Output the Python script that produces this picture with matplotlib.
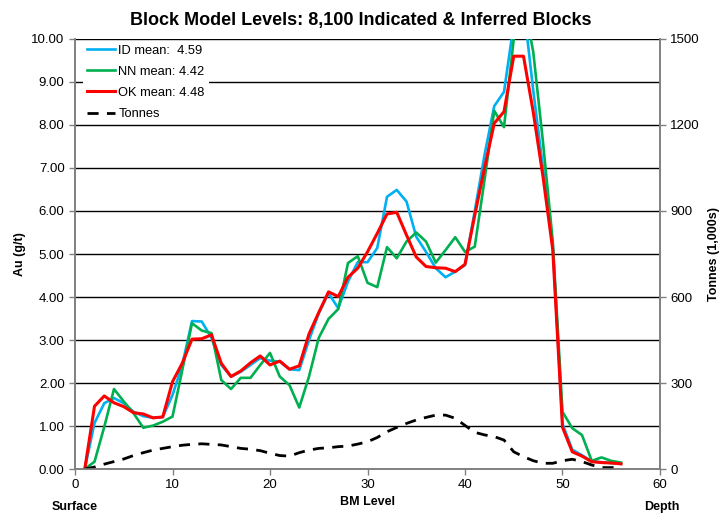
import numpy as np
import matplotlib
matplotlib.use('Agg')
import matplotlib.pyplot as plt
from matplotlib.ticker import MultipleLocator, FormatStrFormatter

plt.rcParams['font.family'] = ['Liberation Sans', 'DejaVu Sans']

levels = list(range(1, 57))

# Au grade (g/t) by block model level
id_mean = [0.00, 1.07, 1.53, 1.65, 1.53, 1.33, 1.23, 1.19, 1.21, 1.72,
           2.42, 3.44, 3.43, 3.05, 2.42, 2.15, 2.26, 2.42, 2.58, 2.52,
           2.50, 2.32, 2.30, 3.00, 3.62, 4.09, 3.74, 4.36, 4.81, 4.81,
           5.14, 6.33, 6.49, 6.22, 5.40, 5.05, 4.67, 4.46, 4.59, 4.74,
           6.00, 7.30, 8.44, 8.77, 10.35, 10.80, 8.80, 7.00, 5.20, 1.05,
           0.45, 0.32, 0.18, 0.16, 0.14, 0.12]
nn_mean = [0.00, 0.17, 0.98, 1.86, 1.57, 1.30, 0.96, 1.01, 1.10, 1.22,
           2.30, 3.39, 3.22, 3.16, 2.07, 1.86, 2.12, 2.12, 2.42, 2.70,
           2.15, 1.95, 1.43, 2.15, 3.05, 3.49, 3.72, 4.79, 4.95, 4.33,
           4.23, 5.16, 4.90, 5.29, 5.50, 5.29, 4.80, 5.09, 5.39, 5.05,
           5.17, 6.72, 8.33, 7.95, 10.00, 10.90, 9.70, 7.60, 5.30, 1.33,
           0.95, 0.79, 0.19, 0.27, 0.19, 0.15]
ok_mean = [0.00, 1.46, 1.70, 1.54, 1.45, 1.31, 1.28, 1.19, 1.21, 2.03,
           2.46, 3.02, 3.03, 3.12, 2.46, 2.15, 2.28, 2.47, 2.63, 2.42,
           2.51, 2.32, 2.40, 3.14, 3.64, 4.12, 4.01, 4.46, 4.67, 5.05,
           5.48, 5.93, 5.97, 5.44, 4.93, 4.71, 4.68, 4.67, 4.59, 4.76,
           5.90, 7.00, 8.04, 8.31, 9.60, 9.60, 8.30, 6.80, 5.10, 0.97,
           0.40, 0.30, 0.17, 0.15, 0.14, 0.12]
# Tonnes (1,000s) by level
tonnes = [0, 7, 17, 26, 35, 47, 57, 66, 72, 78,
          83, 86, 88, 86, 84, 78, 72, 69, 64, 55,
          47, 45, 57, 66, 72, 74, 78, 80, 87, 95,
          110, 130, 145, 159, 171, 180, 188, 188, 177, 152,
          128, 119, 113, 101, 60, 43, 29, 20, 20, 29,
          34, 26, 14, 5, 5, 5]

labels = ['ID mean:  4.59', 'NN mean: 4.42', 'OK mean: 4.48', 'Tonnes']

fig = plt.figure(figsize=(7.24, 5.17), dpi=100)
ax = fig.add_axes([0.1036, 0.0928, 0.808, 0.8318])
ax2 = ax.twinx()

l1, = ax.plot(levels, id_mean, color='#00B0F0', lw=1.9, label=labels[0])
l2, = ax.plot(levels, nn_mean, color='#00B050', lw=1.9, label=labels[1])
l3, = ax.plot(levels, ok_mean, color='#FF0000', lw=2.2, label=labels[2])
l4, = ax2.plot(levels, tonnes, color='black', lw=2.0, ls=(0, (4, 3)),
               label=labels[3])

ax.set_xlim(0, 60)
ax.set_ylim(0, 10)
ax2.set_ylim(0, 1500)
ax.xaxis.set_major_locator(MultipleLocator(10))
ax.yaxis.set_major_locator(MultipleLocator(1))
ax.yaxis.set_major_formatter(FormatStrFormatter('%.2f'))
ax2.yaxis.set_major_locator(MultipleLocator(300))

ax.grid(axis='y', color='#000000', lw=1.0)
ax.set_axisbelow(True)

for a in (ax, ax2):
    for s in a.spines.values():
        s.set_color('#808080')
        s.set_linewidth(1.2)
    a.spines['top'].set_visible(False)
    a.tick_params(colors='#808080', labelcolor='black', labelsize=9.5,
                  length=4, width=1)

ax.set_ylabel('Au (g/t)', fontsize=9, fontweight='bold', labelpad=4)
ax2.set_ylabel('Tonnes (1,000s)', fontsize=9, fontweight='bold', labelpad=6)
ax.set_xlabel('BM Level', fontsize=9, fontweight='bold', labelpad=3)
ax.set_title('Block Model Levels: 8,100 Indicated & Inferred Blocks',
             fontsize=13, fontweight='bold', pad=10, x=0.489)

fig.text(75 / 724, 1 - 507 / 517, 'Surface', fontsize=9, fontweight='bold',
         ha='center', va='center')
fig.text(662 / 724, 1 - 507 / 517, 'Depth', fontsize=9, fontweight='bold',
         ha='center', va='center')

leg = ax2.legend(handles=[l1, l2, l3, l4], loc='upper left',
                 bbox_to_anchor=(0.0103, 1.0), frameon=True, fancybox=False,
                 facecolor='white', edgecolor='none', framealpha=1,
                 fontsize=9.3, handlelength=2.2, handletextpad=0.25,
                 borderpad=0.3, labelspacing=0.7, borderaxespad=0.15)

fig.savefig('out.png', dpi=100)
